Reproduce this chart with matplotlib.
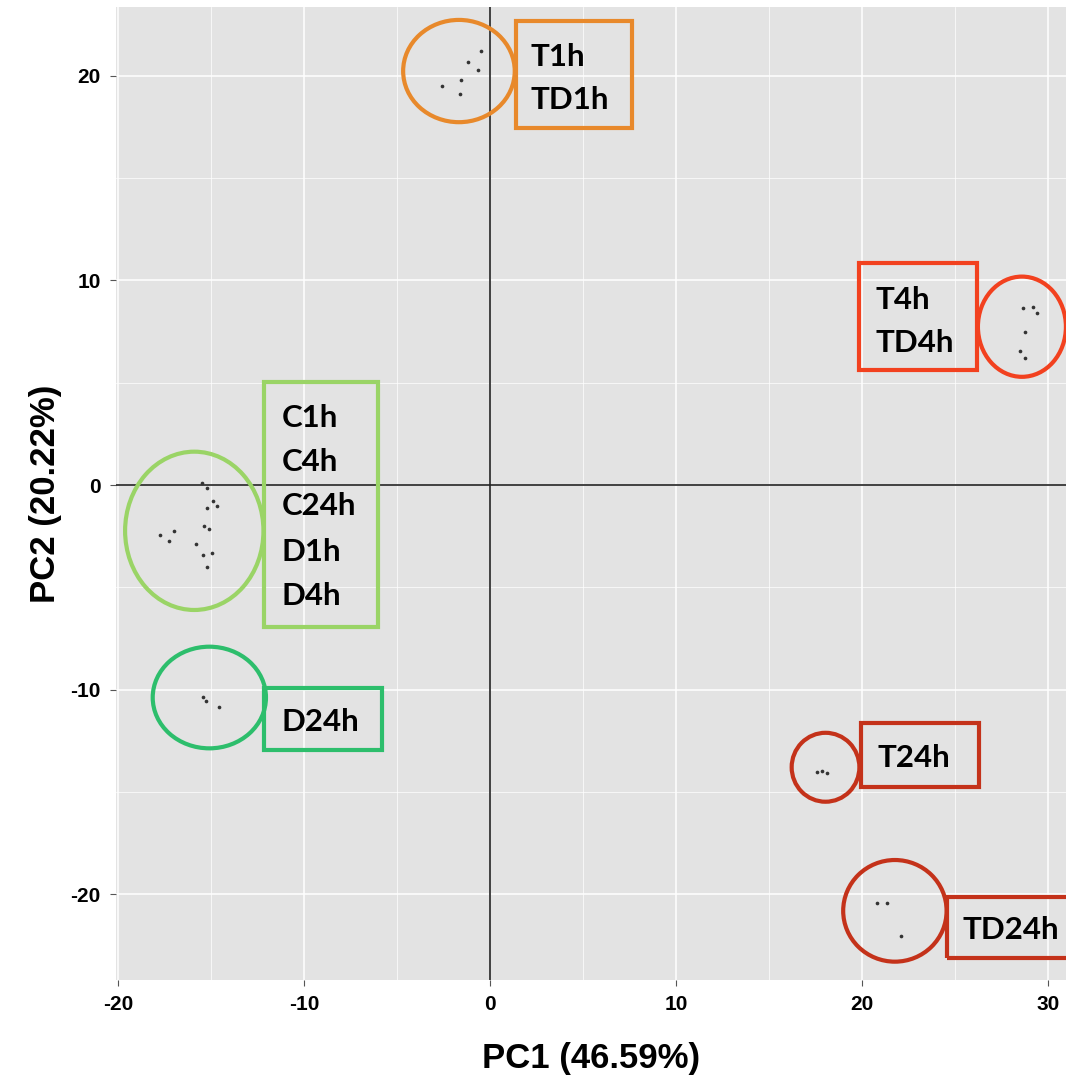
import matplotlib.pyplot as plt
from matplotlib.patches import Ellipse, Rectangle

plt.rcParams["axes.unicode_minus"] = False

# PCA scores
orange_x = [-0.5, -1.2, -0.65, -1.56, -2.6, -1.6]
orange_y = [21.2, 20.7, 20.3, 19.8, 19.5, 19.1]

t4_x = [28.67, 29.18, 29.39, 28.76, 28.49, 28.75]
t4_y = [8.64, 8.72, 8.40, 7.50, 6.57, 6.22]

ctrl_x = [-15.5, -15.22, -14.89, -14.66, -15.22, -15.36, -15.12,
          -16.97, -17.74, -17.26, -15.79, -14.95, -15.41, -15.23]
ctrl_y = [0.08, -0.16, -0.78, -1.04, -1.11, -1.99, -2.14,
          -2.26, -2.44, -2.72, -2.90, -3.34, -3.41, -4.0]

d24_x = [-15.41, -15.27, -14.59]
d24_y = [-10.35, -10.55, -10.87]

t24_x = [17.6, 17.83, 18.1]
t24_y = [-14.02, -13.97, -14.1]

td24_x = [20.79, 21.36, 22.08]
td24_y = [-20.46, -20.46, -22.05]

group_labels = [["T1h", "TD1h"],
                ["T4h", "TD4h"],
                ["C1h", "C4h", "C24h", "D1h", "D4h"],
                ["D24h"],
                ["T24h"],
                ["TD24h"]]

colors = ["#E8892B", "#F2411F", "#9AD466", "#2DBE6C", "#C4321A", "#C4321A"]

# ellipse (cx, cy, w, h), box (x0, y0, x1, y1), text left x, text line ys
layout = [
    ((-1.67, 20.24, 6.0, 5.0), (1.38, 17.46, 7.63, 22.7), 2.2, [20.93, 18.83]),
    ((28.6, 7.74, 4.73, 4.9), (19.85, 5.62, 26.17, 10.87), 20.75, [9.05, 6.94]),
    ((-15.9, -2.24, 7.44, 7.74), (-12.15, -6.93, -6.0, 5.05), -11.2,
     [3.28, 1.12, -1.03, -3.28, -5.43]),
    ((-15.09, -10.39, 6.09, 4.97), (-12.15, -12.96, -5.82, -9.91), -11.2, [-11.59]),
    ((18.04, -13.8, 3.64, 3.37), (19.95, -14.75, 26.29, -11.62), 20.85, [-13.35]),
    ((21.77, -20.82, 5.56, 4.97), (24.55, -23.14, 31.5, -20.13), 25.4, [-21.76]),
]

clusters = [(orange_x, orange_y), (t4_x, t4_y), (ctrl_x, ctrl_y),
            (d24_x, d24_y), (t24_x, t24_y), (td24_x, td24_y)]

axis_font = ["Liberation Sans", "DejaVu Sans"]
box_font = ["Lato", "DejaVu Sans"]

fig = plt.figure(figsize=(10.66, 10.82), dpi=100)
ax = fig.add_axes([0.1088, 0.0943, 1 - 0.1088, 0.8992])
ax.set_facecolor("#E3E3E3")

ax.set_xlim(-20.11, 30.97)
ax.set_ylim(-24.2, 23.37)
ax.set_xticks([-20, -10, 0, 10, 20, 30])
ax.set_yticks([-20, -10, 0, 10, 20])
ax.set_xticks([-15, -5, 5, 15, 25], minor=True)
ax.set_yticks([-15, -5, 5, 15], minor=True)
ax.grid(which="major", color="white", linewidth=1.1)
ax.grid(which="minor", color="white", linewidth=0.5)
ax.set_axisbelow(True)
for s in ax.spines.values():
    s.set_visible(False)
ax.tick_params(which="major", length=4, color="#555555", width=0.8, pad=7)
ax.tick_params(which="minor", length=0)
for lab in ax.get_xticklabels() + ax.get_yticklabels():
    lab.set_family(axis_font)
    lab.set_fontweight("bold")
    lab.set_fontsize(15)

ax.axhline(0, color="#222222", linewidth=1.2, zorder=1)
ax.axvline(0, color="#222222", linewidth=1.2, zorder=1)

for (px, py), col, labels, (ell, box, tx, tys) in zip(clusters, colors, group_labels, layout):
    ax.scatter(px, py, s=7, color="#333333", zorder=3, linewidths=0)
    cx, cy, w, h = ell
    ax.add_patch(Ellipse((cx, cy), w, h, fill=False, edgecolor=col, linewidth=3, zorder=4))
    x0, y0, x1, y1 = box
    ax.add_patch(Rectangle((x0, y0), x1 - x0, y1 - y0, fill=False, edgecolor=col,
                           linewidth=3, zorder=4, clip_on=True))
    for lab, ty in zip(labels, tys):
        ax.text(tx, ty, lab, family=box_font, fontweight="bold", fontsize=22.5,
                ha="left", va="center", color="black", zorder=5)

ax.set_xlabel("PC1 (46.59%)", family=axis_font, fontweight="bold", fontsize=25, labelpad=20)
ax.set_ylabel("PC2 (20.22%)", family=axis_font, fontweight="bold", fontsize=25, labelpad=6)

fig.savefig("out.png", dpi=100)
